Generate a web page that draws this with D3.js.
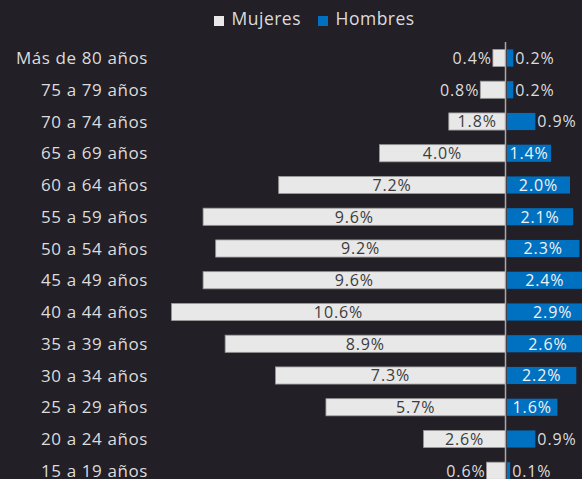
<!DOCTYPE html>
<html><head><meta charset="utf-8">
<script src="https://cdn.jsdelivr.net/npm/d3@7"></script>
<style>
html,body{margin:0;padding:0;background:#231f27;overflow:hidden;}
svg{display:block;}
</style></head>
<body>
<script>
const categories = ["Más de 80 años","75 a 79 años","70 a 74 años","65 a 69 años","60 a 64 años","55 a 59 años","50 a 54 años","45 a 49 años","40 a 44 años","35 a 39 años","30 a 34 años","25 a 29 años","20 a 24 años","15 a 19 años"];
const mujeres = [0.4,0.8,1.8,4.0,7.2,9.6,9.2,9.6,10.6,8.9,7.3,5.7,2.6,0.6];
const hombres = [0.2,0.2,0.9,1.4,2.0,2.1,2.3,2.4,2.9,2.6,2.2,1.6,0.9,0.1];
const seriesNames = ["Mujeres","Hombres"];

const W = 582, H = 479;
const bg = "#231f27", white = "#e8e8e8", blue = "#0070c0", textCol = "#dcdcdc";
const font = "'Open Sans', sans-serif";

const svg = d3.select("body").append("svg").attr("width", W).attr("height", H)
  .style("background", bg);

const cx = 505.5;
const xL = d3.scaleLinear().domain([0, 1]).range([cx, cx - 31.5]);
const xR = d3.scaleLinear().domain([0, 1]).range([cx + 1.5, cx + 1.5 + 31.5]);
const step = 31.75;
const y = d3.scaleBand().domain(categories)
  .range([58 - step/2, 58 - step/2 + step*categories.length])
  .paddingInner(0.46).paddingOuter(0.23);

// category labels
svg.append("g").selectAll("text").data(categories).join("text")
  .attr("x", 148).attr("y", d => y(d) + y.bandwidth()/2)
  .attr("dy", "0.36em").attr("text-anchor", "end")
  .attr("fill", textCol).style("font-family", font).style("font-size", "17px")
  .style("letter-spacing", "0.6px")
  .text(d => d);

// Mujeres bars
const rows = categories.map((c, i) => ({c, m: mujeres[i], h: hombres[i]}));
svg.append("g").selectAll("rect").data(rows).join("rect")
  .attr("x", d => xL(d.m)).attr("y", d => y(d.c))
  .attr("width", d => xL(0) - xL(d.m)).attr("height", y.bandwidth())
  .attr("fill", white).attr("stroke", "#9a9a9a").attr("stroke-width", 0.8);

// Hombres bars
svg.append("g").selectAll("rect").data(rows).join("rect")
  .attr("x", xR(0)).attr("y", d => y(d.c))
  .attr("width", d => xR(d.h) - xR(0)).attr("height", y.bandwidth())
  .attr("fill", blue);

// center axis line
svg.append("line").attr("x1", cx).attr("x2", cx).attr("y1", 42).attr("y2", H)
  .attr("stroke", "#a8a8a8").attr("stroke-width", 1.5);

// labels
const fmt = v => v.toFixed(1) + "%";
const lblSize = "16px";
const lblSpacing = "0.9px";
const gL = svg.append("g");
rows.forEach(d => {
  const t = gL.append("text").attr("y", y(d.c) + y.bandwidth()/2).attr("dy", "0.36em")
    .style("font-family", font).style("font-size", lblSize).style("letter-spacing", lblSpacing)
    .text(fmt(d.m));
  const tw = t.node().getComputedTextLength();
  const bw = xL(0) - xL(d.m);
  if (tw + 2 <= bw) {
    t.attr("x", (xL(0) + xL(d.m))/2).attr("text-anchor", "middle").attr("fill", "#3c3c3c");
  } else {
    t.attr("x", xL(d.m) - 1).attr("text-anchor", "end").attr("fill", textCol);
  }
  const t2 = gL.append("text").attr("y", y(d.c) + y.bandwidth()/2).attr("dy", "0.36em")
    .style("font-family", font).style("font-size", lblSize).style("letter-spacing", lblSpacing)
    .text(fmt(d.h));
  const tw2 = t2.node().getComputedTextLength();
  const bw2 = xR(d.h) - xR(0);
  if (tw2 + 2 <= bw2) {
    t2.attr("x", (xR(0) + xR(d.h))/2).attr("text-anchor", "middle").attr("fill", "#f2f2f2");
  } else {
    t2.attr("x", xR(d.h) + 2).attr("text-anchor", "start").attr("fill", textCol);
  }
});

// legend
const leg = svg.append("g");
const legX = [214, 318], legCol = [white, blue];
seriesNames.forEach((n, i) => {
  leg.append("rect").attr("x", legX[i]).attr("y", 16).attr("width", 10).attr("height", 10)
    .attr("fill", legCol[i]);
  leg.append("text").attr("x", legX[i] + 17.5).attr("y", 18.5).attr("dy", "0.36em")
    .attr("fill", textCol).style("font-family", font).style("font-size", "17.5px")
    .style("letter-spacing", "0.5px").text(n);
});
</script>
</body></html>
